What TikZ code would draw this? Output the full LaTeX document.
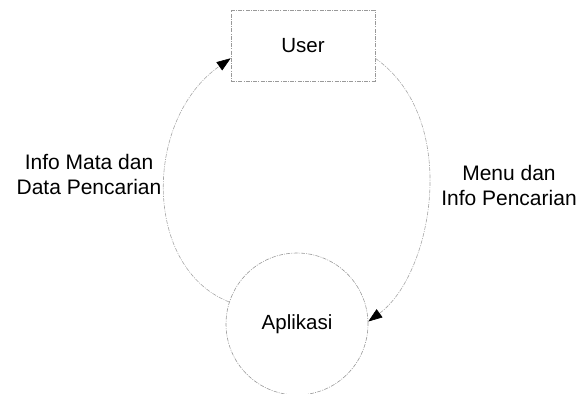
\documentclass[tikz,border=0pt]{standalone}
\usepackage{fontspec}
\setmainfont{Liberation Sans}
\usetikzlibrary{arrows.meta}
\begin{document}
\begin{tikzpicture}[x=1pt,y=-1pt,
  flowline/.style={draw=gray!70, line width=0.6pt, dash pattern=on 4pt off 1.2pt on 1pt off 1.2pt,
    -{Triangle[length=14pt,width=10pt,color=black]}},
  entity/.style={draw=gray!80, line width=0.6pt, dash pattern=on 4pt off 1.2pt on 1pt off 1.2pt,
    minimum width=144pt, minimum height=71pt, inner sep=0pt, font=\fontsize{20.5}{24}\selectfont},
  process/.style={circle, draw=gray!80, line width=0.6pt, dash pattern=on 4pt off 1.2pt on 1pt off 1.2pt,
    minimum size=142pt, inner sep=0pt, font=\fontsize{20.5}{24}\selectfont},
  lbl/.style={align=center, font=\fontsize{21}{25}\selectfont}]
\useasboundingbox (0,0) rectangle (579,394);
\node[entity] (user) at (303,45.5) {User};
\node[process] (app) at (297,324) {Aplikasi};
\draw[flowline] (app.162) .. controls (143,268) and (143,120) .. (user.190);
\draw[flowline] (user.-10) .. controls (462,120) and (432,275) .. (app.2);
\node[lbl] (l1) at (89,174) {Info Mata dan\\Data Pencarian};
\node[lbl] (l2) at (509,185) {Menu dan\\Info Pencarian};
\end{tikzpicture}
\end{document}
